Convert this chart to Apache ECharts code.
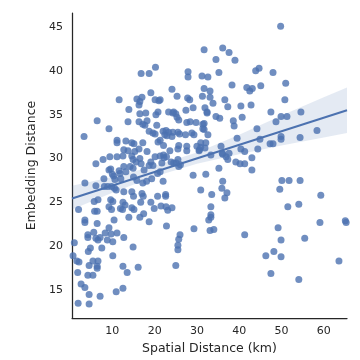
<!DOCTYPE html>
<html>
<head>
<meta charset="utf-8">
<script src="https://cdn.jsdelivr.net/npm/echarts@6/dist/echarts.min.js"></script>
<style>
  html, body { margin: 0; padding: 0; background: #fff; }
  #main { width: 360px; height: 360px; }
</style>
</head>
<body>
<div id="main"></div>
<script>
// points: [spatial distance km, embedding distance]
var points = [
  [49.8,45.1],[16.8,39.7],[18.7,39.7],[20.2,40.4],
  [31.7,42.4],[36.1,42.6],[37.6,42.1],[34.5,41.3],[39.0,41.2],[35.2,39.8],[27.9,39.9],[27.9,39.3],
  [31.2,39.4],[32.6,39.3],[43.9,40.0],[44.7,40.3],[48.0,39.8],[38.3,38.4],[24.1,37.9],[25.3,37.1],
  [27.8,36.9],[28.3,36.7],[31.7,38.0],[33.1,37.7],[31.3,37.1],[33.1,37.0],[33.8,36.3],[36.6,36.7],
  [37.3,35.9],[40.4,36.0],[42.8,36.1],[41.8,38.1],[42.5,37.7],[43.1,38.0],[45.1,38.3],[51.0,38.6],
  [50.8,36.7],[29.1,35.8],[27.4,35.5],[31.9,35.8],[23.3,35.3],[24.5,35.3],[32.4,35.3],
  [47.5,35.3],[49.9,34.8],[51.3,34.8],[54.6,35.3],[48.7,34.2],[44.2,33.4],[44.9,32.2],[49.9,32.5],
  [49.9,32.2],[47.3,31.7],[48.0,31.7],[54.4,32.4],[58.4,33.2],[44.4,31.1],[40.7,34.7],[38.6,34.3],
  [38.8,33.7],[39.5,32.3],[34.5,34.8],[35.4,34.6],[32.4,35.2],[27.6,34.1],[28.4,34.2],[29.8,34.1],
  [31.4,33.9],[31.7,33.3],[32.6,32.7],[28.8,32.9],[29.3,32.7],[25.9,32.8],[27.3,32.7],[30.0,31.4],
  [30.9,31.8],[32.1,31.8],[31.9,31.2],[27.6,31.4],[27.6,30.9],[30.5,30.9],[35.7,31.4],[33.3,30.4],
  [36.1,30.5],[36.9,30.2],[37.6,30.6],[37.3,29.9],[40.4,31.1],[41.3,30.8],[43.0,30.1],[39.2,29.6],
  [40.2,29.4],[41.3,29.4],[43.0,28.7],[35.2,28.9],[29.1,28.1],[32.1,28.2],
  [36.1,27.4],[30.9,26.4],[33.5,25.9],[35.9,26.6],[37.1,26.1],[36.6,25.5],[33.3,24.5],[32.8,23.0],
  [33.3,23.3],[29.3,22.0],[33.1,21.8],[34.0,21.9],[41.3,21.3],[50.1,27.5],[51.8,27.5],[54.4,27.5],
  [49.6,26.5],[51.5,24.5],[54.1,24.8],[59.3,25.8],[59.1,22.7],[65.1,22.9],[65.3,22.7],[49.2,22.1],
  [49.9,20.7],[55.5,20.9],[46.3,18.9],[48.2,19.4],[49.9,18.8],[47.5,16.9],[54.1,16.2],[63.6,18.3],
  [22.8,22.3],[26.0,21.3],[25.7,20.8],[25.5,20.1],[25.5,19.6],[25.0,17.8],[33.3,23.6],
  [19.1,37.5],[11.6,36.7],[15.8,36.8],[17.0,37.0],[16.5,36.5],[16.3,36.1],[20.1,36.7],[21.0,36.6],
  [21.3,36.7],[13.9,35.6],[16.5,35.1],[17.9,35.2],[20.8,35.3],
  [3.3,32.5],[6.4,34.3],[9.2,33.4],[13.7,34.2],[16.3,34.2],[17.2,33.9],[17.7,33.8],[18.2,34.3],
  [20.3,35.0],[20.5,33.8],[18.7,33.1],[19.6,32.9],[20.1,32.8],[22.0,33.1],[22.4,32.7],[21.3,32.1],
  [20.8,31.9],[24.3,35.2],[25.0,35.1],[24.3,33.0],[25.5,33.0],[24.1,32.5],[11.1,32.1],[11.1,31.8],
  [13.2,32.0],[14.6,31.8],[15.1,31.7],[17.2,31.8],[12.7,31.0],[13.7,30.9],[15.3,30.8],[16.3,31.1],
  [18.2,30.8],[20.1,30.2],[21.3,30.3],[22.2,30.1],[23.6,30.9],[25.5,31.1],[25.5,29.9],[6.1,29.4],
  [7.8,29.9],[9.4,30.2],[11.1,30.2],[12.5,30.3],[14.6,30.3],[14.9,29.9],[15.6,29.6],[16.5,30.0],
  [16.8,29.4],[19.1,29.6],[19.6,29.2],[21.7,29.5],[12.7,29.1],[14.2,29.1],[14.9,28.9],[9.2,28.7],
  [11.6,28.6],[17.5,28.7],[18.7,29.2],
  [9.6,28.8],[10.0,28.2],[3.5,27.2],[6.1,26.9],[8.0,27.7],[10.3,28.0],[10.6,27.6],[11.8,28.3],
  [12.0,27.7],[13.2,28.5],[15.0,27.9],[15.8,27.5],[17.2,27.2],[18.1,27.4],[19.3,27.7],[20.7,28.3],
  [21.3,28.5],[8.1,26.8],[8.9,26.8],[9.8,26.8],[10.5,26.6],[10.9,26.4],[12.7,26.2],[14.6,26.2],
  [15.0,25.7],[17.0,26.0],[17.3,25.7],[19.1,25.0],[20.7,25.7],[16.7,25.0],[12.5,25.0],[13.0,24.7],
  [9.6,25.3],[10.1,25.1],[9.2,24.5],[9.8,24.2],[5.7,25.1],[6.6,25.3],[5.8,24.0],[6.4,24.0],
  [2.0,24.2],[11.9,24.3],[12.4,24.2],[14.6,24.4],[15.1,24.2],[17.4,23.7],[19.9,24.3],[21.5,24.6],
  [3.5,23.0],[3.5,22.7],[6.4,22.6],[10.4,23.0],[13.9,23.3],[16.5,23.3],[18.7,22.8],[4.2,21.3],
  [4.2,21.0],[5.6,21.6],[6.1,20.9],[6.6,20.7],[7.1,21.0],[8.3,21.5],[9.2,22.1],[9.7,21.4],
  [10.1,20.5],[11.1,21.5],[12.7,21.0],[8.8,20.7],[1.0,20.4],[7.5,19.8],[4.3,19.4],[4.8,19.8],
  [14.9,19.9],[10.1,18.9],[1.6,18.3],[2.1,18.2],[0.7,18.9],[4.5,17.8],[5.4,18.3],[6.6,18.3],
  [6.4,17.7],[6.4,17.5],[12.5,17.7],[13.5,17.0],[16.1,17.6],[1.8,17.0],[4.2,16.7],[5.4,16.7],
  [2.6,15.7],[3.5,15.3],[4.5,14.5],[7.1,14.3],[10.9,14.8],[12.5,15.2],[1.9,13.5],[4.5,13.4],
  [22.7,24.5],[23.1,24.1],[24.1,24.4],[22.0,27.4],[22.6,25.9],[22.6,25.7],
  [25.3,34.7],[25.7,34.4],[31.7,34.0],[31.4,33.4],[22.7,33.2],[23.3,33.0],[22.9,32.6],[25.7,31.5],
  [30.6,31.0],[30.9,31.3],[36.0,30.6],[22.1,31.5],[22.1,30.4],[22.8,30.2],[23.9,29.6],[24.5,29.5],
  [25.1,29.5],[25.7,29.1],[26.1,29.3]
];

// fitted regression line (end points) and 95% band
var fitLine = [[0.45, 25.45], [65.5, 35.5]];
var ciX  = [0.45, 10, 20, 30, 40, 50, 60, 65.5];
var ciLo = [24.2, 26.1, 27.95, 29.4, 30.5, 31.5, 32.4, 32.9];
var ciHi = [26.9, 27.9, 29.15, 30.7, 32.7, 34.9, 37.0, 38.1];

var xTicks = [10, 20, 30, 40, 50, 60];
var yTicks = [15, 20, 25, 30, 35, 40, 45];

var blue = '#4C72B0';
var txt = '#262626';
var font = 'DejaVu Sans';

var myChart = echarts.init(document.getElementById('main'));

var option = {
    backgroundColor: '#fff',
    animation: false,
    grid: { left: 72, right: 13, top: 13, bottom: 36 },
    xAxis: {
        type: 'value',
        min: 0.45,
        max: 65.5,
        name: 'Spatial Distance (km)',
        nameLocation: 'middle',
        nameGap: 22,
        nameTextStyle: { color: txt, fontSize: 12.5, fontFamily: font },
        axisLine: { show: true, lineStyle: { color: txt, width: 1.25 } },
        axisTick: { show: false },
        splitLine: { show: false },
        axisLabel: {
            customValues: xTicks,
            color: txt, fontSize: 11, fontFamily: font, margin: 8
        }
    },
    yAxis: {
        type: 'value',
        min: 11.8,
        max: 46.6,
        name: 'Embedding Distance',
        nameLocation: 'middle',
        nameGap: 29,
        nameTextStyle: { color: txt, fontSize: 12.5, fontFamily: font },
        axisLine: { show: true, lineStyle: { color: txt, width: 1.25 } },
        axisTick: { show: false },
        splitLine: { show: false },
        axisLabel: {
            customValues: yTicks,
            color: txt, fontSize: 11, fontFamily: font, margin: 9
        }
    },
    series: [
        {
            type: 'scatter',
            data: points,
            symbolSize: 7,
            itemStyle: { color: blue, opacity: 0.8 },
            z: 2
        },
        {
            // confidence band
            type: 'custom',
            data: [0],
            z: 3,
            renderItem: function (params, api) {
                var pts = [];
                for (var i = 0; i < ciX.length; i++) {
                    pts.push(api.coord([ciX[i], ciHi[i]]));
                }
                for (var j = ciX.length - 1; j >= 0; j--) {
                    pts.push(api.coord([ciX[j], ciLo[j]]));
                }
                return {
                    type: 'polygon',
                    shape: { points: pts },
                    style: { fill: blue, opacity: 0.15 }
                };
            }
        },
        {
            type: 'line',
            data: fitLine,
            symbol: 'none',
            lineStyle: { color: blue, width: 2 },
            z: 4
        }
    ]
};

myChart.setOption(option);
</script>
</body>
</html>
